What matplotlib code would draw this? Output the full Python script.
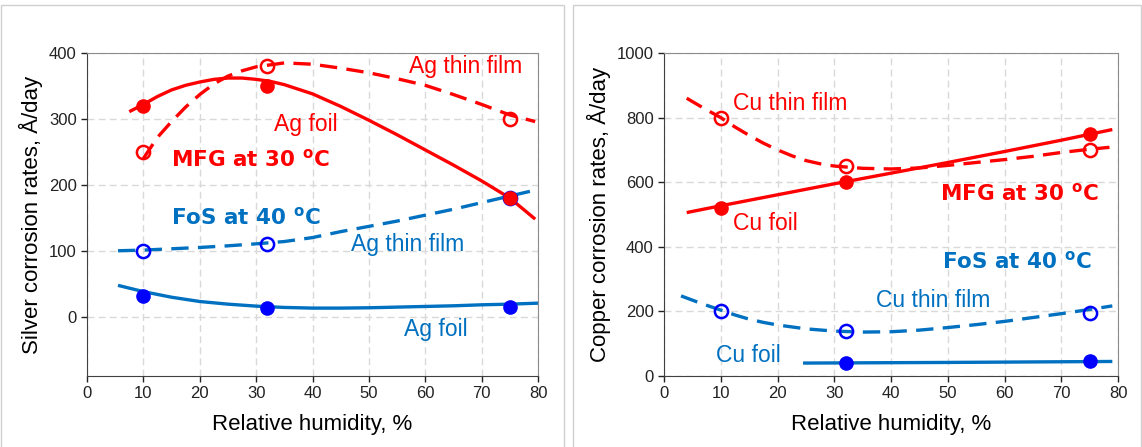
import matplotlib

matplotlib.use("Agg")

import matplotlib.pyplot as plt
from matplotlib.patches import Rectangle

# measured points (RH %, corrosion rate A/day)
rh_pts = [10, 32, 75]
ag_foil_mfg = [320, 350, 180]
ag_film_mfg = [250, 380, 300]
ag_film_fos = [100, 110, 180]
ag_foil_fos = [32, 13, 14]

cu_foil_mfg = [520, 600, 750]
cu_film_mfg = [800, 650, 700]
cu_film_fos = [200, 140, 195]
rh_cu_foil_fos = [32, 75]
cu_foil_fos = [40, 45]

# trend lines
ag_foil_mfg_tx = [7.5, 10, 12.5, 15, 17.5, 20, 22.5, 25, 27.5, 30, 32.5, 35, 40, 45, 50, 55, 60, 65, 70, 75, 79.5]
ag_foil_mfg_ty = [311, 322, 334, 344, 351, 356, 360, 362, 362, 360, 357, 352, 338, 319, 298, 276, 253, 230, 206, 180, 148]
ag_film_mfg_tx = [10, 12.5, 15, 17.5, 20, 22.5, 25, 27.5, 30, 35, 40, 45, 50, 55, 60, 65, 70, 75, 79.5]
ag_film_mfg_ty = [240, 272, 296, 318, 337, 353, 365, 373, 379, 385, 383, 377, 370, 361, 351, 337, 322, 306, 296]
ag_film_fos_tx = [5.5, 10, 15, 20, 25, 30, 35, 40, 45, 50, 55, 60, 65, 70, 75, 79.5]
ag_film_fos_ty = [100, 101, 103, 105, 107.5, 110.5, 114, 120, 129, 137, 145, 154, 163, 173, 183, 192]
ag_foil_fos_tx = [5.5, 10, 15, 20, 25, 30, 35, 40, 45, 50, 55, 60, 65, 70, 75, 80]
ag_foil_fos_ty = [47.5, 38, 29.5, 23, 19, 16, 14, 13, 13, 13.5, 14.5, 15.5, 16.5, 18, 19, 20.5]

cu_film_mfg_tx = [4, 7, 10, 12.5, 15, 17.5, 20, 22.5, 25, 27.5, 30, 35, 40, 45, 50, 55, 60, 65, 70, 75, 78.5]
cu_film_mfg_ty = [860, 829, 800, 771, 745, 721, 700, 682, 667, 657, 650, 643, 641, 644, 652, 661, 670, 680, 692, 702, 708]
cu_foil_mfg_tx = [4, 10, 20, 30, 40, 50, 60, 70, 79]
cu_foil_mfg_ty = [506, 527, 561, 595, 628, 661, 695, 730, 763]
cu_film_fos_tx = [3, 6.5, 10, 12.5, 15, 17.5, 20, 25, 30, 35, 40, 45, 50, 55, 60, 65, 70, 75, 79]
cu_film_fos_ty = [248, 225, 204, 189, 176, 166, 158, 146, 139, 136, 137, 142, 150, 159, 169, 181, 193, 206, 217]
cu_foil_fos_tx = [24.5, 50, 79]
cu_foil_fos_ty = [40, 42, 45]

x_ticks = [0, 10, 20, 30, 40, 50, 60, 70, 80]

RED = "#ff0000"
BLUE_LINE = "#0070c0"
BLUE_MARK = "#0000ff"

plt.rcParams["font.family"] = ["Liberation Sans", "DejaVu Sans"]
plt.rcParams["mathtext.fontset"] = "dejavusans"

fig = plt.figure(figsize=(11.42, 4.47), dpi=100)
W, H = 1142.0, 447.0
ax1 = fig.add_axes([87 / W, 1 - 376 / H, 451 / W, 323 / H])
ax2 = fig.add_axes([664 / W, 1 - 376 / H, 454 / W, 323 / H])

# panel frames
fig.patches.append(Rectangle((1 / W, -0.01), 563 / W, 1 - 5 / H + 0.01, transform=fig.transFigure,
                             fill=False, ec="#d0d0d0", lw=1.0))
fig.patches.append(Rectangle((573 / W, -0.01), 568 / W, 1 - 5 / H + 0.01, transform=fig.transFigure,
                             fill=False, ec="#d0d0d0", lw=1.0))

LW = 2.4
DASH = (5.2, 2.8)


def trend(ax, x, y, color, dashed):
    line, = ax.plot(x, y, color=color, lw=LW, solid_capstyle="butt", zorder=3)
    if dashed:
        line.set_dashes(DASH)


def marks(ax, x, y, color, filled):
    if filled:
        ax.plot(x, y, "o", ms=9.5, mfc=color, mec=color, zorder=5)
    else:
        ax.plot(x, y, "o", ms=9.5, mfc="none", mec=color, mew=1.8, zorder=4)


def style(ax, ymin, ymax, ystep, ylabel):
    ax.set_xlim(0, 80)
    ax.set_ylim(ymin, ymax)
    ax.set_xticks(x_ticks)
    ax.set_yticks(list(range(0, ymax + 1, ystep)))
    ax.grid(True, color="#d9d9d9", ls=(0, (5, 3)), lw=1.0, zorder=0)
    ax.set_axisbelow(True)
    ax.tick_params(direction="out", length=4, width=1, labelsize=12, colors="#222222")
    for s in ("top", "right"):
        ax.spines[s].set_color("#8c8c8c")
    for s in ("left", "bottom"):
        ax.spines[s].set_color("#404040")
    ax.set_xlabel("Relative humidity, %", fontsize=16, labelpad=9)
    ax.set_ylabel(ylabel, fontsize=16, labelpad=4)


# silver panel
trend(ax1, ag_foil_mfg_tx, ag_foil_mfg_ty, RED, False)
trend(ax1, ag_film_mfg_tx, ag_film_mfg_ty, RED, True)
trend(ax1, ag_film_fos_tx, ag_film_fos_ty, BLUE_LINE, True)
trend(ax1, ag_foil_fos_tx, ag_foil_fos_ty, BLUE_LINE, False)
marks(ax1, rh_pts, ag_film_fos, BLUE_MARK, False)
marks(ax1, rh_pts, ag_foil_fos, BLUE_MARK, True)
marks(ax1, rh_pts, ag_film_mfg, RED, False)
marks(ax1, rh_pts, ag_foil_mfg, RED, True)
style(ax1, -90, 400, 100, "Silver corrosion rates, Å/day")

ax1.text(57.1, 379, "Ag thin film", color=RED, fontsize=16.5, va="center")
ax1.text(33.2, 291, "Ag foil", color=RED, fontsize=16.5, va="center")
ax1.text(14.9, 238, r"MFG at 30 $^{\mathbf{o}}$C", color=RED, fontsize=15.5,
         family="DejaVu Sans", weight="bold", va="center")
ax1.text(14.9, 151, r"FoS at 40 $^{\mathbf{o}}$C", color=BLUE_LINE, fontsize=15.5,
         family="DejaVu Sans", weight="bold", va="center")
ax1.text(46.8, 109, "Ag thin film", color=BLUE_LINE, fontsize=16.5, va="center")
ax1.text(56.2, -20, "Ag foil", color=BLUE_LINE, fontsize=16.5, va="center")

# copper panel
trend(ax2, cu_film_mfg_tx, cu_film_mfg_ty, RED, True)
trend(ax2, cu_foil_mfg_tx, cu_foil_mfg_ty, RED, False)
trend(ax2, cu_film_fos_tx, cu_film_fos_ty, BLUE_LINE, True)
trend(ax2, cu_foil_fos_tx, cu_foil_fos_ty, BLUE_LINE, False)
marks(ax2, rh_pts, cu_film_fos, BLUE_MARK, False)
marks(ax2, rh_cu_foil_fos, cu_foil_fos, BLUE_MARK, True)
marks(ax2, rh_pts, cu_film_mfg, RED, False)
marks(ax2, rh_pts, cu_foil_mfg, RED, True)
style(ax2, 0, 1000, 200, "Copper corrosion rates, Å/day")

ax2.text(12.2, 845, "Cu thin film", color=RED, fontsize=16.5, va="center")
ax2.text(12.2, 473, "Cu foil", color=RED, fontsize=16.5, va="center")
ax2.text(48.7, 565, r"MFG at 30 $^{\mathbf{o}}$C", color=RED, fontsize=15.5,
         family="DejaVu Sans", weight="bold", va="center")
ax2.text(49.0, 354, r"FoS at 40 $^{\mathbf{o}}$C", color=BLUE_LINE, fontsize=15.5,
         family="DejaVu Sans", weight="bold", va="center")
ax2.text(37.4, 235, "Cu thin film", color=BLUE_LINE, fontsize=16.5, va="center")
ax2.text(9.2, 64, "Cu foil", color=BLUE_LINE, fontsize=16.5, va="center")

fig.savefig("out.png", dpi=100)
